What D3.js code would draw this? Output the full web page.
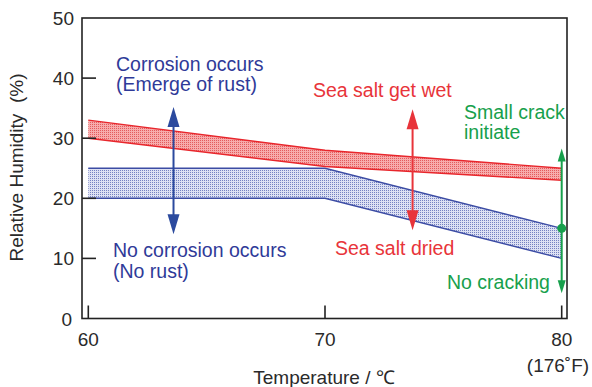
<!DOCTYPE html>
<html>
<head>
<meta charset="utf-8">
<script src="https://cdn.jsdelivr.net/npm/d3@7"></script>
<style>
  html, body { margin: 0; padding: 0; background: #fff; }
  svg { display: block; font-family: "Liberation Sans", Arial, sans-serif; }
  text { white-space: pre; }
</style>
</head>
<body>
<svg id="chart" width="592" height="387"></svg>
<script>
// ---- data ----
const temps = [60, 70, 80];
const wetUpper = [33, 28, 25];
const wetLower = [30, 25.3, 23];
const rustUpper = [25, 25, 15];
const rustLower = [20, 20, 10];
const yTicks = [0, 10, 20, 30, 40, 50];
const xTicks = [60, 70, 80];
const xTickLabels = ["60", "70", "80"];
const fahrenheitLabel = "(176˚F)";
const xTitle = "Temperature / ℃";
const yTitle = "Relative Humidity  (%)";
// arrows: [x temp, top tip RH, bottom tip RH]
const corrosionArrow = [63.6, 35.2, 14];
const saltArrow = [73.7, 34.8, 14.7];
const crackArrow = [80, 28.3, 4.2];
const crackPoint = [80, 15];
const corrosionText = ["Corrosion occurs", "(Emerge of rust)"];
const noCorrosionText = ["No corrosion occurs", "(No rust)"];
const wetText = "Sea salt get wet";
const driedText = "Sea salt dried";
const crackText = ["Small crack", "initiate"];
const noCrackText = "No cracking";

// ---- setup ----
const svg = d3.select("#chart");
const x = d3.scaleLinear().domain([60, 80]).range([88.3, 561.7]);
const y = d3.scaleLinear().domain([0, 50]).range([318.5, 18]);
const frame = {left: 82, right: 567, top: 18, bottom: 318.5};

const BLUE = "#2f3a98", RED = "#e8343a", GREEN = "#17a04c";
const BLUE_LINE = "#3c4ca4", RED_LINE = "#e8262c";

const defs = svg.append("defs");
function dotPattern(id, bg, dot) {
  const p = defs.append("pattern").attr("id", id)
    .attr("patternUnits", "userSpaceOnUse").attr("width", 2).attr("height", 2);
  p.append("rect").attr("width", 2).attr("height", 2).attr("fill", bg);
  p.append("rect").attr("width", 1).attr("height", 1).attr("fill", dot);
}
dotPattern("redDots", "#f7a8a8", "#e25254");
dotPattern("blueDots", "#dde1f3", "#7581c2");

// ---- bands ----
const wetData = temps.map((t, i) => ({t, hi: wetUpper[i], lo: wetLower[i]}));
const rustData = temps.map((t, i) => ({t, hi: rustUpper[i], lo: rustLower[i]}));
const area = d3.area().x(d => x(d.t)).y0(d => y(d.lo)).y1(d => y(d.hi));
const lineHi = d3.line().x(d => x(d.t)).y(d => y(d.hi));
const lineLo = d3.line().x(d => x(d.t)).y(d => y(d.lo));

svg.append("path").datum(rustData).attr("d", area).attr("fill", "url(#blueDots)");
svg.append("path").datum(wetData).attr("d", area).attr("fill", "url(#redDots)").attr("opacity", 0.95);
[lineHi, lineLo].forEach(l => {
  svg.append("path").datum(rustData).attr("d", l).attr("fill", "none")
    .attr("stroke", BLUE_LINE).attr("stroke-width", 1.4);
});
[lineHi, lineLo].forEach(l => {
  svg.append("path").datum(wetData).attr("d", l).attr("fill", "none")
    .attr("stroke", RED_LINE).attr("stroke-width", 1.4);
});

// ---- frame and ticks ----
const ax = svg.append("g").attr("stroke", "#222").attr("stroke-width", 1.6).attr("fill", "none");
ax.append("rect").attr("x", frame.left).attr("y", frame.top)
  .attr("width", frame.right - frame.left).attr("height", frame.bottom - frame.top);
yTicks.filter(v => v > 0 && v < 50).forEach(v => {
  ax.append("line").attr("x1", frame.left).attr("x2", frame.left + 14)
    .attr("y1", y(v)).attr("y2", y(v));
});
xTicks.forEach(v => {
  ax.append("line").attr("x1", x(v)).attr("x2", x(v))
    .attr("y1", frame.bottom).attr("y2", frame.bottom - 13);
});

const txt = svg.append("g").attr("fill", "#2a2a2a").attr("font-size", 19);
yTicks.forEach(v => {
  txt.append("text").attr("x", v === 0 ? 72 : 74).attr("y", y(v) + 7)
    .attr("text-anchor", "end").text(v);
});
xTicks.forEach((v, i) => {
  txt.append("text").attr("x", x(v)).attr("y", 346)
    .attr("text-anchor", "middle").text(xTickLabels[i]);
});
txt.append("text").attr("x", 558).attr("y", 372).attr("text-anchor", "middle").text(fahrenheitLabel);
txt.append("text").attr("x", 324).attr("y", 384).attr("text-anchor", "middle").text(xTitle);
txt.append("text").attr("transform", "translate(23,167.5) rotate(-90)")
  .attr("text-anchor", "middle").text(yTitle);

// ---- arrows ----
function doubleArrow(a, color, headLen, headW, lw) {
  const g = svg.append("g");
  const xx = x(a[0]), yt = y(a[1]), yb = y(a[2]);
  g.append("line").attr("x1", xx).attr("x2", xx).attr("y1", yt + headLen - 1).attr("y2", yb - headLen + 1)
    .attr("stroke", color).attr("stroke-width", lw);
  g.append("path").attr("fill", color)
    .attr("d", `M${xx},${yt} L${xx - headW / 2},${yt + headLen} L${xx + headW / 2},${yt + headLen} Z`);
  g.append("path").attr("fill", color)
    .attr("d", `M${xx},${yb} L${xx - headW / 2},${yb - headLen} L${xx + headW / 2},${yb - headLen} Z`);
}
doubleArrow(corrosionArrow, "#2b4a9e", 20, 12, 2);
doubleArrow(saltArrow, "#e8343a", 20, 12, 2);
doubleArrow(crackArrow, GREEN, 13, 8, 2);
svg.append("circle").attr("cx", x(crackPoint[0])).attr("cy", y(crackPoint[1])).attr("r", 4.5).attr("fill", GREEN);

// ---- annotations ----
const ann = svg.append("g").attr("font-size", 19.5);
function lines(arr, x0, y0, color, dy) {
  arr.forEach((s, i) => ann.append("text").attr("x", x0).attr("y", y0 + i * dy).attr("fill", color).text(s));
}
lines(corrosionText, 116, 71, BLUE, 20);
lines(noCorrosionText, 113, 257, BLUE, 20.5);
lines([wetText], 313, 96.5, RED, 0);
lines([driedText], 335, 255, RED, 0);
lines(crackText, 464, 118.5, GREEN, 20.5);
lines([noCrackText], 447, 289, GREEN, 0);
</script>
</body>
</html>
